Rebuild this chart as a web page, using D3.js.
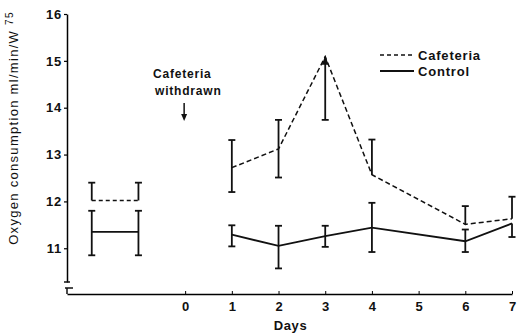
<!DOCTYPE html>
<html>
<head>
<meta charset="utf-8">
<script src="https://cdn.jsdelivr.net/npm/d3@7"></script>
<style>
  body { margin: 0; background: #fff; }
  text { font-family: "Liberation Sans", Arial, Helvetica, sans-serif; font-weight: bold; fill: #111; }
</style>
</head>
<body>
<div id="chart"></div>
<script>
var svgWidth = 517;
var svgHeight = 334;

// days after cafeteria withdrawal
var days = [1, 2, 3, 4, 6, 7];
var cafMean  = [12.72, 13.12, 15.09, 12.57, 11.51, 11.63];
var cafUpper = [13.31, 13.74, 15.09, 13.32, 11.90, 12.10];
var cafLower = [12.20, 12.51, 13.74, 12.57, 11.51, 11.63];
var ctlMean  = [11.29, 11.05, 11.26, 11.44, 11.15, 11.53];
var ctlUpper = [11.49, 11.48, 11.48, 11.97, 11.40, 11.53];
var ctlLower = [11.04, 10.57, 11.03, 10.92, 10.92, 11.24];

// pre-withdrawal baseline (drawn as bracket left of day 0)
var baseX = [-2, -1];
var baseCafMean = 12.02, baseCafUpper = 12.40;
var baseCtlMean = 11.35, baseCtlUpper = 11.80, baseCtlLower = 10.85;

var xTicks = [0, 1, 2, 3, 4, 5, 6, 7];
var yTicks = [11, 12, 13, 14, 15, 16];
var yMin = 10.28;

var svg = d3.select("#chart").append("svg")
    .attr("width", svgWidth)
    .attr("height", svgHeight);

var x = d3.scaleLinear().domain([-2.53, 7]).range([67, 512]);
var y = d3.scaleLinear().domain([yMin, 16]).range([282, 14]);
var axisY = 294;

// y axis
var yAxis = svg.append("g")
    .attr("transform", "translate(" + x(-2.53) + ",0)")
    .call(d3.axisLeft(y).tickValues(yTicks).tickFormat(d3.format("d"))
      .tickSize(3).tickSizeOuter(0).tickPadding(2));
yAxis.selectAll("text").style("font-size", "13px").style("letter-spacing", "0.8px");
yAxis.select(".domain").attr("stroke-width", 1.5);
yAxis.selectAll(".tick line").attr("stroke-width", 1.2);

// axis break at bottom of y axis
svg.append("line").attr("x1", x(-2.53) - 3).attr("x2", x(-2.53) + 3)
    .attr("y1", y(yMin)).attr("y2", y(yMin)).attr("stroke", "#111").attr("stroke-width", 1.5);
svg.append("path")
    .attr("d", "M" + (x(-2.53) - 2) + "," + (axisY - 6) + "H" + (x(-2.53) + 6) +
               "M" + x(-2.53) + "," + (axisY - 6) + "V" + axisY)
    .attr("fill", "none").attr("stroke", "#111").attr("stroke-width", 1.5);

// x axis
var xAxis = svg.append("g")
    .attr("transform", "translate(0," + axisY + ")")
    .call(d3.axisBottom(x).tickValues(xTicks).tickSize(-3).tickSizeOuter(0).tickPadding(8));
xAxis.selectAll("text").style("font-size", "13px");
xAxis.select(".domain").attr("stroke-width", 1.5);

svg.append("text")
    .attr("x", x(2) + 12)
    .attr("y", 330)
    .attr("text-anchor", "middle")
    .style("font-size", "13px")
    .style("letter-spacing", "0.6px")
    .text("Days");

// y axis label
var yLab = svg.append("text")
    .attr("transform", "translate(18,128) rotate(-90)")
    .attr("text-anchor", "middle")
    .style("font-size", "13px")
    .style("font-weight", "normal")
    .style("letter-spacing", "1.3px");
yLab.append("tspan").text("Oxygen consumption  ml/min/W ");
yLab.append("tspan").attr("dy", -5).style("font-size", "10px").text("75");

var line = d3.line().x(d => x(d[0])).y(d => y(d[1]));

// lines
svg.append("path")
    .datum(days.map((d, i) => [d, cafMean[i]]))
    .attr("d", line)
    .attr("fill", "none").attr("stroke", "#111").attr("stroke-width", 1.5)
    .attr("stroke-dasharray", "5,3");
svg.append("path")
    .datum(days.map((d, i) => [d, ctlMean[i]]))
    .attr("d", line)
    .attr("fill", "none").attr("stroke", "#111").attr("stroke-width", 1.8);

// error bars
function errorBar(xv, lo, hi, capTop, capBottom) {
  var g = svg.append("g").attr("stroke", "#111").attr("stroke-width", 1.8);
  g.append("line").attr("x1", x(xv)).attr("x2", x(xv)).attr("y1", y(lo)).attr("y2", y(hi));
  if (capTop) g.append("line").attr("x1", x(xv) - 3.5).attr("x2", x(xv) + 3.5).attr("y1", y(hi)).attr("y2", y(hi));
  if (capBottom) g.append("line").attr("x1", x(xv) - 3.5).attr("x2", x(xv) + 3.5).attr("y1", y(lo)).attr("y2", y(lo));
}
days.forEach(function(d, i) {
  errorBar(d, cafLower[i], cafUpper[i], cafUpper[i] > cafMean[i], cafLower[i] < cafMean[i]);
  errorBar(d, ctlLower[i], ctlUpper[i], ctlUpper[i] > ctlMean[i], ctlLower[i] < ctlMean[i]);
});

// peak arrowhead at day 3
var pk = days.indexOf(3);
svg.append("path")
    .attr("d", "M" + x(3) + "," + (y(cafMean[pk]) - 1) + "l-3.5,9h7z")
    .attr("fill", "#111");

// baseline brackets
svg.append("path")
    .datum(baseX.map(d => [d, baseCafMean]))
    .attr("d", line)
    .attr("fill", "none").attr("stroke", "#111").attr("stroke-width", 1.5)
    .attr("stroke-dasharray", "4,3");
svg.append("path")
    .datum(baseX.map(d => [d, baseCtlMean]))
    .attr("d", line)
    .attr("fill", "none").attr("stroke", "#111").attr("stroke-width", 1.8);
baseX.forEach(function(d) {
  errorBar(d, baseCafMean, baseCafUpper, true, false);
  errorBar(d, baseCtlLower, baseCtlUpper, true, true);
});

// annotation
svg.append("text").attr("x", 153).attr("y", 78).style("font-size", "12px")
    .style("letter-spacing", "0.8px").text("Cafeteria");
svg.append("text").attr("x", 155).attr("y", 95).style("font-size", "12px")
    .style("letter-spacing", "0.8px").text("withdrawn");
svg.append("line")
    .attr("x1", x(0) - 1).attr("x2", x(0) - 1).attr("y1", 103).attr("y2", 116)
    .attr("stroke", "#111").attr("stroke-width", 1.5);
svg.append("path")
    .attr("d", "M" + (x(0) - 1) + ",121l-3,-7h6z")
    .attr("fill", "#111");

// legend
var legend = svg.append("g").attr("transform", "translate(380,55)");
legend.append("line").attr("x1", 0).attr("x2", 34).attr("y1", 0).attr("y2", 0)
    .attr("stroke", "#111").attr("stroke-width", 1.5).attr("stroke-dasharray", "4,3");
legend.append("text").attr("x", 38).attr("y", 4.5).style("font-size", "13px")
    .style("letter-spacing", "0.8px").text("Cafeteria");
legend.append("line").attr("x1", 0).attr("x2", 34).attr("y1", 16).attr("y2", 16)
    .attr("stroke", "#111").attr("stroke-width", 1.8);
legend.append("text").attr("x", 38).attr("y", 20.5).style("font-size", "13px")
    .style("letter-spacing", "0.8px").text("Control");
</script>
</body>
</html>
